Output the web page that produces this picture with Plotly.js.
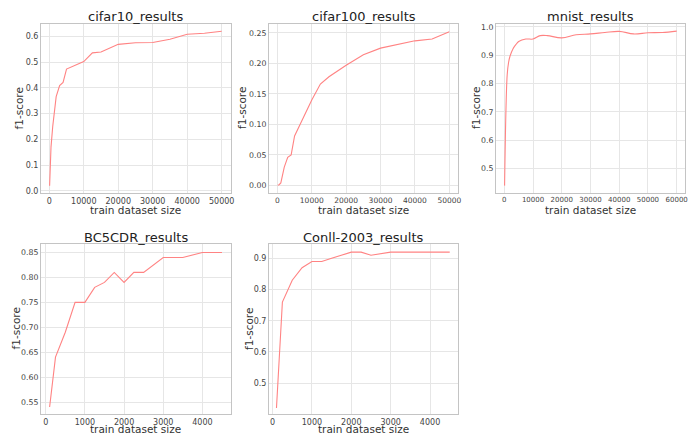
<!DOCTYPE html>
<html>
<head>
<meta charset="utf-8">
<script src="https://cdn.plot.ly/plotly-3.0.1.min.js"></script>
<style>html,body{margin:0;padding:0;background:#fff;}#chart{width:689px;height:434px;}</style>
</head>
<body>
<div id="chart"></div>
<script>
// ---- data ----
var cifar10X = [100, 500, 1000, 1500, 2000, 3000, 4000, 5000, 10000, 12500, 15000, 20000, 25000, 30000, 35000, 40000, 45000, 50000];
var cifar10Y = [0.02, 0.17, 0.25, 0.32, 0.366, 0.409, 0.421, 0.473, 0.502, 0.536, 0.539, 0.569, 0.575, 0.576, 0.589, 0.608, 0.612, 0.620];

var cifar100X = [100, 500, 1000, 1500, 2000, 3000, 4000, 5000, 10000, 12500, 15000, 20000, 25000, 30000, 35000, 40000, 45000, 50000];
var cifar100Y = [0.0, 0.001, 0.004, 0.02, 0.03, 0.046, 0.05, 0.081, 0.14, 0.166, 0.178, 0.197, 0.214, 0.225, 0.231, 0.237, 0.240, 0.252];

var mnistX = [100, 1000, 1500, 2000, 3000, 4000, 5000, 7500, 10000, 12500, 15000, 20000, 25000, 30000, 35000, 40000, 45000, 50000, 55000, 60000];
var mnistY = [0.44, 0.83, 0.875, 0.897, 0.922, 0.937, 0.948, 0.957, 0.957, 0.969, 0.969, 0.961, 0.972, 0.975, 0.980, 0.984, 0.975, 0.979, 0.980, 0.985];

var bc5cdrX = [100, 250, 500, 750, 1000, 1250, 1500, 1750, 2000, 2250, 2500, 3000, 3500, 4000, 4500];
var bc5cdrY = [0.54, 0.64, 0.69, 0.75, 0.75, 0.78, 0.79, 0.81, 0.79, 0.81, 0.81, 0.84, 0.84, 0.85, 0.85];

var conllX = [100, 250, 500, 750, 1000, 1250, 1500, 1750, 2000, 2250, 2500, 3000, 3500, 4000, 4500];
var conllY = [0.42, 0.76, 0.83, 0.87, 0.89, 0.89, 0.90, 0.91, 0.92, 0.92, 0.91, 0.92, 0.92, 0.92, 0.92];

var subplotTitles = ["cifar10_results", "cifar100_results", "mnist_results", "BC5CDR_results", "Conll-2003_results"];
var xTitle = "train dataset size";
var yTitle = "f1-score";

// ---- styling ----
var W = 689, H = 434;
var lineColor = "#ff8383";
var colDomains = [[41 / W, 231 / W], [269 / W, 458 / W], [496 / W, 685 / W]];
var rowDomains = [[1 - 193 / H, 1 - 24 / H], [1 - 414 / H, 1 - 244 / H]];

function trace(x, y, i, shape) {
  var s = i === 1 ? "" : String(i);
  return {x: x, y: y, type: "scatter", mode: "lines", xaxis: "x" + s, yaxis: "y" + s,
          line: {color: lineColor, width: 1.1, shape: shape || "linear"}, showlegend: false, hoverinfo: "skip"};
}

var data = [
  trace(cifar10X, cifar10Y, 1),
  trace(cifar100X, cifar100Y, 2),
  trace(mnistX, mnistY, 3, "spline"),
  trace(bc5cdrX, bc5cdrY, 4),
  trace(conllX, conllY, 5)
];

function tf(sz) { return {family: "DejaVu Sans", size: sz, color: "#444"}; }

function xax(dom, anchor, range, dtick, fs) {
  return {domain: dom, anchor: anchor, range: range, dtick: dtick, tick0: 0, tickformat: "d",
          showgrid: true, gridcolor: "#e6e6e6", gridwidth: 1, zeroline: false,
          showline: true, linecolor: "#c4c4c4", linewidth: 1, mirror: true,
          ticks: "", ticklen: 0, tickfont: tf(fs), ticklabeloverflow: "allow"};
}
function yax(dom, anchor, range, dtick, fmt, fs) {
  return {domain: dom, anchor: anchor, range: range, dtick: dtick, tick0: 0, tickformat: fmt,
          showgrid: true, gridcolor: "#e6e6e6", gridwidth: 1, zeroline: false,
          showline: true, linecolor: "#c4c4c4", linewidth: 1, mirror: true,
          ticks: "", ticklen: 0, tickfont: tf(fs), ticklabeloverflow: "allow"};
}

var layout = {
  width: W, height: H,
  margin: {l: 0, r: 0, t: 0, b: 0},
  paper_bgcolor: "#fff", plot_bgcolor: "#fff",
  font: {family: "DejaVu Sans", color: "#333"},
  xaxis:  xax(colDomains[0], "y",  [-2400, 52700], 10000, 8),
  yaxis:  yax(rowDomains[0], "x",  [-0.008, 0.648], 0.1, ".1f", 8),
  xaxis2: xax(colDomains[1], "y2", [-2440, 52530], 10000, 7.5),
  yaxis2: yax(rowDomains[0], "x2", [-0.0126, 0.2646], 0.05, ".2f", 7.8),
  xaxis3: xax(colDomains[2], "y3", [-2890, 62900], 10000, 7),
  yaxis3: yax(rowDomains[0], "x3", [0.414, 1.010], 0.1, ".1f", 7.8),
  xaxis4: xax(colDomains[0], "y4", [-120, 4730], 1000, 8),
  yaxis4: yax(rowDomains[1], "x4", [0.526, 0.867], 0.05, ".2f", 7.8),
  xaxis5: xax(colDomains[1], "y5", [-90, 4710], 1000, 8),
  yaxis5: yax(rowDomains[1], "x5", [0.401, 0.946], 0.1, ".1f", 8),
  annotations: []
};

var cells = [[0, 0], [1, 0], [2, 0], [0, 1], [1, 1]];
var yTitleShift = [-23, -27.5, -20.5, -25.5, -20];
var xTitleShift = [-16.5, -16.5, -16.5, -15, -15];
for (var i = 0; i < subplotTitles.length; i++) {
  var c = colDomains[cells[i][0]], r = rowDomains[cells[i][1]];
  layout.annotations.push({
    text: subplotTitles[i], showarrow: false, xref: "paper", yref: "paper",
    x: (c[0] + c[1]) / 2, y: r[1], xanchor: "center", yanchor: "bottom", yshift: -2.5,
    font: {family: "DejaVu Sans", size: 13, color: "#222"}
  });
  layout.annotations.push({
    text: xTitle, showarrow: false, xref: "paper", yref: "paper",
    x: (c[0] + c[1]) / 2, y: r[0], xanchor: "center", yanchor: "middle", yshift: xTitleShift[i],
    font: {family: "DejaVu Sans", size: 10.5, color: "#333"}
  });
  layout.annotations.push({
    text: yTitle, showarrow: false, xref: "paper", yref: "paper", textangle: -90,
    x: c[0], y: (r[0] + r[1]) / 2, xanchor: "center", yanchor: "middle", xshift: yTitleShift[i],
    font: {family: "DejaVu Sans", size: 10.5, color: "#333"}
  });
}

Plotly.newPlot("chart", data, layout, {staticPlot: true, displayModeBar: false});
</script>
</body>
</html>
